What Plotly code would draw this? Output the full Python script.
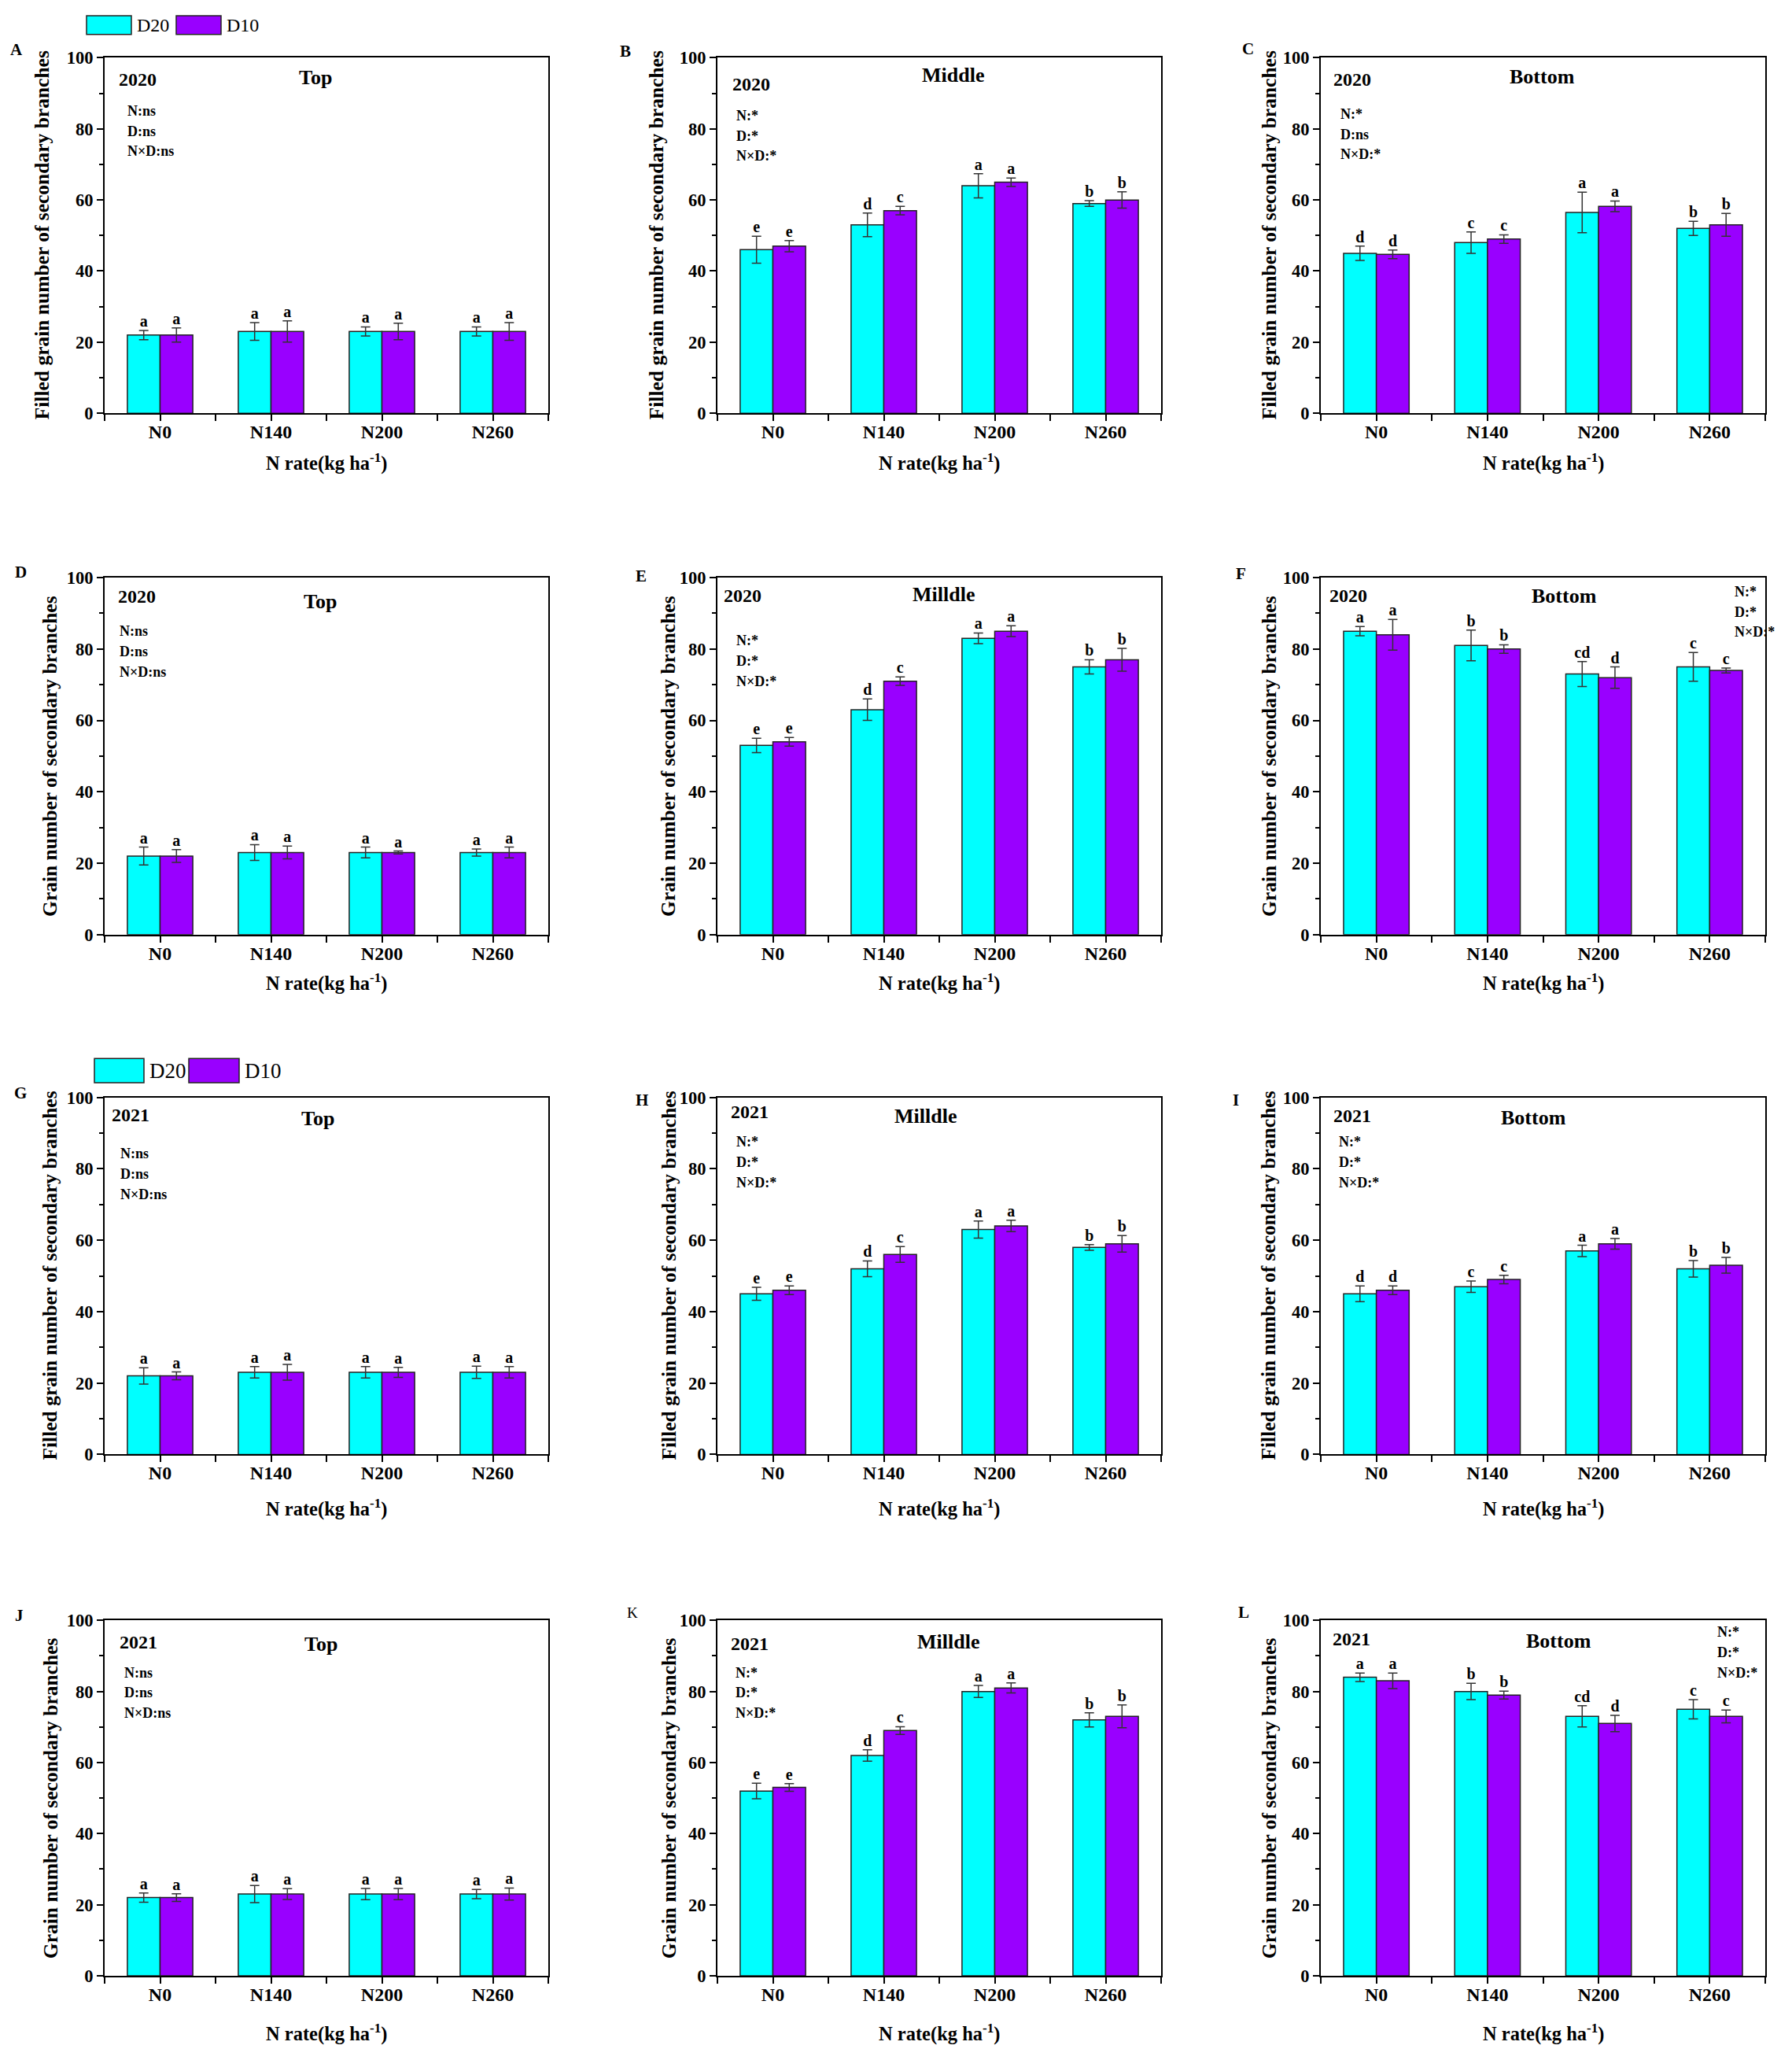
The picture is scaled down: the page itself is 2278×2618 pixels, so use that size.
import plotly.graph_objects as go

# -------------------------------------------------------
# Data
# -------------------------------------------------------
CATS = ["N0", "N140", "N200", "N260"]

A_D20 = [22, 23, 23, 23]
A_D10 = [22, 23, 23, 23]
A_D20_SD = [1.3, 2.5, 1.3, 1.3]
A_D10_SD = [2.0, 3.0, 2.3, 2.5]
A_D20_LET = ["a", "a", "a", "a"]
A_D10_LET = ["a", "a", "a", "a"]

B_D20 = [46, 53, 64, 59]
B_D10 = [47, 57, 65, 60]
B_D20_SD = [3.8, 3.3, 3.4, 0.8]
B_D10_SD = [1.6, 1.2, 1.2, 2.3]
B_D20_LET = ["e", "d", "a", "b"]
B_D10_LET = ["e", "c", "a", "b"]

C_D20 = [45, 48, 56.5, 52]
C_D10 = [44.7, 49, 58.2, 53]
C_D20_SD = [2.0, 3.0, 5.7, 2.0]
C_D10_SD = [1.2, 1.2, 1.5, 3.2]
C_D20_LET = ["d", "c", "a", "b"]
C_D10_LET = ["d", "c", "a", "b"]

D_D20 = [22, 23, 23, 23]
D_D10 = [22, 23, 23, 23]
D_D20_SD = [2.5, 2.2, 1.5, 1.0]
D_D10_SD = [1.8, 1.8, 0.4, 1.5]
D_D20_LET = ["a", "a", "a", "a"]
D_D10_LET = ["a", "a", "a", "a"]

E_D20 = [53, 63, 83, 75]
E_D10 = [54, 71, 85, 77]
E_D20_SD = [2.0, 3.0, 1.5, 2.0]
E_D10_SD = [1.2, 1.2, 1.5, 3.2]
E_D20_LET = ["e", "d", "a", "b"]
E_D10_LET = ["e", "c", "a", "b"]

F_D20 = [85, 81, 73, 75]
F_D10 = [84, 80, 72, 74]
F_D20_SD = [1.3, 4.3, 3.5, 4.0]
F_D10_SD = [4.3, 1.2, 3.0, 0.7]
F_D20_LET = ["a", "b", "cd", "c"]
F_D10_LET = ["a", "b", "d", "c"]

G_D20 = [22, 23, 23, 23]
G_D10 = [22, 23, 23, 23]
G_D20_SD = [2.3, 1.6, 1.6, 1.7]
G_D10_SD = [1.1, 2.2, 1.4, 1.6]
G_D20_LET = ["a", "a", "a", "a"]
G_D10_LET = ["a", "a", "a", "a"]

H_D20 = [45, 52, 63, 58]
H_D10 = [46, 56, 64, 59]
H_D20_SD = [1.8, 2.2, 2.4, 0.8]
H_D10_SD = [1.2, 2.2, 1.6, 2.3]
H_D20_LET = ["e", "d", "a", "b"]
H_D10_LET = ["e", "c", "a", "b"]

I_D20 = [45, 47, 57, 52]
I_D10 = [46, 49, 59, 53]
I_D20_SD = [2.2, 1.6, 1.6, 2.3]
I_D10_SD = [1.2, 1.2, 1.5, 2.2]
I_D20_LET = ["d", "c", "a", "b"]
I_D10_LET = ["d", "c", "a", "b"]

J_D20 = [22, 23, 23, 23]
J_D10 = [22, 23, 23, 23]
J_D20_SD = [1.3, 2.4, 1.6, 1.3]
J_D10_SD = [1.1, 1.5, 1.6, 1.7]
J_D20_LET = ["a", "a", "a", "a"]
J_D10_LET = ["a", "a", "a", "a"]

K_D20 = [52, 62, 80, 72]
K_D10 = [53, 69, 81, 73]
K_D20_SD = [2.2, 1.6, 1.7, 2.0]
K_D10_SD = [1.1, 1.1, 1.4, 3.2]
K_D20_LET = ["e", "d", "a", "b"]
K_D10_LET = ["e", "c", "a", "b"]

L_D20 = [84, 80, 73, 75]
L_D10 = [83, 79, 71, 73]
L_D20_SD = [1.2, 2.3, 3.0, 2.7]
L_D10_SD = [2.2, 1.1, 2.3, 1.8]
L_D20_LET = ["a", "b", "cd", "c"]
L_D10_LET = ["a", "b", "d", "c"]

YT_FILLED = "Filled grain number of secondary branches"
YT_GRAIN = "Grain number of secondary branches"
XT = "N rate(kg ha<sup>-1</sup>)"

# label, year, position, stats, y title, data
PANELS = [
    ("A", "2020", "Top",     ["N:ns", "D:ns", "N×D:ns"], YT_FILLED, A_D20, A_D10, A_D20_SD, A_D10_SD, A_D20_LET, A_D10_LET),
    ("B", "2020", "Middle",  ["N:*", "D:*", "N×D:*"],    YT_FILLED, B_D20, B_D10, B_D20_SD, B_D10_SD, B_D20_LET, B_D10_LET),
    ("C", "2020", "Bottom",  ["N:*", "D:ns", "N×D:*"],   YT_FILLED, C_D20, C_D10, C_D20_SD, C_D10_SD, C_D20_LET, C_D10_LET),
    ("D", "2020", "Top",     ["N:ns", "D:ns", "N×D:ns"], YT_GRAIN,  D_D20, D_D10, D_D20_SD, D_D10_SD, D_D20_LET, D_D10_LET),
    ("E", "2020", "Milldle", ["N:*", "D:*", "N×D:*"],    YT_GRAIN,  E_D20, E_D10, E_D20_SD, E_D10_SD, E_D20_LET, E_D10_LET),
    ("F", "2020", "Bottom",  ["N:*", "D:*", "N×D:*"],    YT_GRAIN,  F_D20, F_D10, F_D20_SD, F_D10_SD, F_D20_LET, F_D10_LET),
    ("G", "2021", "Top",     ["N:ns", "D:ns", "N×D:ns"], YT_FILLED, G_D20, G_D10, G_D20_SD, G_D10_SD, G_D20_LET, G_D10_LET),
    ("H", "2021", "Milldle", ["N:*", "D:*", "N×D:*"],    YT_FILLED, H_D20, H_D10, H_D20_SD, H_D10_SD, H_D20_LET, H_D10_LET),
    ("I", "2021", "Bottom",  ["N:*", "D:*", "N×D:*"],    YT_FILLED, I_D20, I_D10, I_D20_SD, I_D10_SD, I_D20_LET, I_D10_LET),
    ("J", "2021", "Top",     ["N:ns", "D:ns", "N×D:ns"], YT_GRAIN,  J_D20, J_D10, J_D20_SD, J_D10_SD, J_D20_LET, J_D10_LET),
    ("K", "2021", "Milldle", ["N:*", "D:*", "N×D:*"],    YT_GRAIN,  K_D20, K_D10, K_D20_SD, K_D10_SD, K_D20_LET, K_D10_LET),
    ("L", "2021", "Bottom",  ["N:*", "D:*", "N×D:*"],    YT_GRAIN,  L_D20, L_D10, L_D20_SD, L_D10_SD, L_D20_LET, L_D10_LET),
]

# -------------------------------------------------------
# Layout geometry (pixels of the 2278 x 2618 page)
# -------------------------------------------------------
W, H = 2278, 2618
COLS = [(125, 689), (904, 1468), (1671, 2236)]
ROWS = [(54, 510), (721, 1179), (1388, 1846), (2059, 2515)]
XTITLE_Y = [573, 1240, 1915, 2588]

# text offsets inside each panel: (year dx, dy), (pos dx, dy), (stats dx, dy first line, step)
TEXT_POS = {
    "A": ((42, 28), (268, 25), (27, 68, 26)),
    "B": ((43, 34), (299, 22), (22, 74, 26)),
    "C": ((40, 28), (281, 24), (23, 72, 26)),
    "D": ((41, 24), (274, 31), (17, 69, 26)),
    "E": ((32, 23), (287, 22), (22, 81, 26)),
    "F": ((35, 23), (309, 24), (524, 18, 26)),
    "G": ((33, 22), (271, 27), (18, 72, 26)),
    "H": ((41, 18), (265, 24), (22, 57, 26)),
    "I": ((40, 23), (270, 26), (21, 57, 26)),
    "J": ((43, 28), (275, 30), (23, 67, 26)),
    "K": ((41, 30), (293, 27), (21, 67, 26)),
    "L": ((39, 24), (302, 26), (502, 15, 26)),
}
LABEL_POS = {
    "A": (13, 43), "B": (787, 45), "C": (1578, 42),
    "D": (18, 714), "E": (807, 719), "F": (1569, 716),
    "G": (18, 1382), "H": (808, 1391), "I": (1563, 1391),
    "J": (16, 2053), "K": (796, 2049), "L": (1573, 2049),
}
YTITLE_X = {
    "A": 45, "B": 826, "C": 1605, "D": 56, "E": 842, "F": 1606,
    "G": 56, "H": 843, "I": 1605, "J": 56, "K": 842, "L": 1605,
}

CYAN = "#00FFFF"
PURPLE = "#9900FF"
FONT = "Liberation Serif"
BARGAP = 0.41


def px(x):
    return x / W


def py(y):
    return 1 - y / H


def bold(size):
    return dict(family=FONT, size=size, color="black", weight="bold")


def note(x, y, text, font, xanchor="center", **kw):
    # text placed in page pixels
    return dict(x=px(x), y=py(y), xref="paper", yref="paper", text=text,
                showarrow=False, xanchor=xanchor, yanchor="middle", font=font, **kw)


fig = go.Figure()
annotations = []
shapes = []
xpos = list(range(len(CATS)))
half = (1 - BARGAP) / 4  # centre offset of each bar in a pair

for k, (lab, year, pos, stats, ytitle, d20, d10, s20, s10, l20, l10) in enumerate(PANELS):
    r, c = divmod(k, 3)
    n = "" if k == 0 else str(k + 1)
    xa, ya = "x" + n, "y" + n
    x0, x1 = COLS[c]
    y0, y1 = ROWS[r]

    for vals, sds, lets, color, sign in [(d20, s20, l20, CYAN, -1), (d10, s10, l10, PURPLE, 1)]:
        fig.add_trace(go.Bar(
            x=xpos, y=vals,
            error_y=dict(type="data", array=sds, color="#333333", thickness=1.5, width=6),
            marker=dict(color=color, line=dict(color="#222222", width=1.5)),
            xaxis=xa, yaxis=ya, showlegend=False,
        ))
        fig.add_trace(go.Scatter(
            x=[i + sign * half for i in xpos],
            y=[v + s for v, s in zip(vals, sds)],
            mode="text", text=lets, textposition="top center",
            textfont=bold(20), xaxis=xa, yaxis=ya, showlegend=False,
            cliponaxis=False,
        ))

    axis_common = dict(
        showline=True, linewidth=2, linecolor="black", mirror=True,
        showgrid=False, zeroline=False, ticks="outside", ticklen=8,
        tickwidth=2, tickcolor="black",
    )
    fig.layout["xaxis" + n] = dict(
        axis_common, domain=[px(x0), px(x1)], anchor=ya,
        range=[-0.5, len(CATS) - 0.5], tickmode="array",
        tickvals=xpos, ticktext=CATS, tickfont=bold(24), ticklabelstandoff=-7,
        minor=dict(tickmode="array", tickvals=[i + 0.5 for i in range(-1, len(CATS))],
                   ticks="outside", ticklen=8, tickwidth=2, tickcolor="black"),
    )
    fig.layout["yaxis" + n] = dict(
        axis_common, domain=[py(y1), py(y0)], anchor=xa,
        range=[0, 100], dtick=20, tickfont=bold(22.5),
        minor=dict(dtick=10, ticks="outside", ticklen=5, tickwidth=2, tickcolor="black"),
    )

    (ydx, ydy), (pdx, pdy), (sdx, sdy, step) = TEXT_POS[lab]
    annotations.append(note(x0 + ydx, y0 + ydy, year, bold(24)))
    annotations.append(note(x0 + pdx, y0 + pdy, pos, bold(26)))
    for j, s in enumerate(stats):
        annotations.append(note(x0 + sdx, y0 + sdy + j * step, s, bold(18), xanchor="left"))
    lx, ly = LABEL_POS[lab]
    lab_font = bold(21) if lab != "K" else dict(family=FONT, size=19, color="black")
    annotations.append(note(lx, ly, lab, lab_font))
    annotations.append(note(YTITLE_X[lab], (y0 + y1) / 2, ytitle, bold(25.5), textangle=-90))
    annotations.append(note((x0 + x1) / 2, XTITLE_Y[r], XT, bold(24.5)))

# -------------------------------------------------------
# Hand-drawn legends (top left and above panel G)
# -------------------------------------------------------
LEGENDS = [
    # (cyan box x0, x1, purple box x0, x1, y0, y1, font size)
    (102, 159, 216, 273, 0, 24, 24),
    (112, 175, 232, 296, 1338, 1369, 27),
]
for cx0, cx1, mx0, mx1, ly0, ly1, fs in LEGENDS:
    for bx0, bx1, color, name in [(cx0, cx1, CYAN, "D20"), (mx0, mx1, PURPLE, "D10")]:
        shapes.append(dict(type="rect", xref="paper", yref="paper",
                           x0=px(bx0), x1=px(bx1), y0=py(ly1), y1=py(ly0),
                           fillcolor=color, line=dict(color="#222222", width=1.5)))
        annotations.append(note(bx1 + 5, (ly0 + ly1) / 2, name,
                                dict(family=FONT, size=fs, color="black"), xanchor="left"))

fig.update_layout(
    width=W, height=H,
    margin=dict(l=0, r=0, t=0, b=0),
    paper_bgcolor="white", plot_bgcolor="white",
    barmode="group", bargap=BARGAP, bargroupgap=0,
    annotations=annotations, shapes=shapes,
    font=dict(family=FONT, color="black"),
)

fig.write_html("out.html")
